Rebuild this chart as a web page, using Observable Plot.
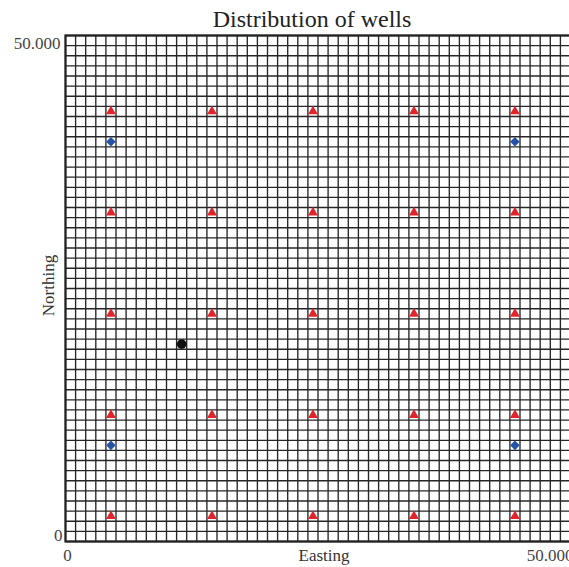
<!DOCTYPE html>
<html>
<head>
<meta charset="utf-8">
<script src="https://cdn.jsdelivr.net/npm/d3@7"></script>
<script src="https://cdn.jsdelivr.net/npm/@observablehq/plot@0.6"></script>
<style>
  html, body { margin: 0; padding: 0; background: #fff; overflow: hidden; }
  #wrap { position: relative; width: 569px; height: 567px; overflow: hidden; }
  #title { position: absolute; top: 4px; left: 55px; width: 514px; text-align: center;
           font-family: "Liberation Serif", serif; font-size: 24px; line-height: 30px; color: #222; }
  #chart { position: absolute; top: 0; left: 0; width: 600px; }
  #chart svg { max-width: none !important; width: 600px !important; height: 567px !important; }
</style>
</head>
<body>
<div id="wrap">
  <div id="chart"></div>
  <div id="title">Distribution of wells</div>
</div>
<script>
// Axis settings
const xDomain = [0, 50000];
const yDomain = [0, 50000];
const tickLabels = [0, 50000];
const gridStep = 1000;

// Red triangles (producer wells)
const triX = [4500, 14500, 24500, 34500, 44500,
              4500, 14500, 24500, 34500, 44500,
              4500, 14500, 24500, 34500, 44500,
              4500, 14500, 24500, 34500, 44500,
              4500, 14500, 24500, 34500, 44500];
const triY = [42500, 42500, 42500, 42500, 42500,
              32500, 32500, 32500, 32500, 32500,
              22500, 22500, 22500, 22500, 22500,
              12500, 12500, 12500, 12500, 12500,
              2500, 2500, 2500, 2500, 2500];

// Blue diamonds
const diaX = [4500, 44500, 4500, 44500];
const diaY = [39500, 39500, 9500, 9500];

// Black well
const blkX = [11500];
const blkY = [19500];

const tri = triX.map((x, i) => ({x, y: triY[i]}));
const dia = diaX.map((x, i) => ({x, y: diaY[i]}));
const blk = blkX.map((x, i) => ({x, y: blkY[i]}));
const grid = d3.range(xDomain[0], xDomain[1] + 1, gridStep);

const fmt = d => d === 0 ? "0" : d3.format(",")(d).replace(",", ".");

const chart = Plot.plot({
  width: 600,
  height: 567,
  marginTop: 35,
  marginBottom: 26,
  marginLeft: 65,
  marginRight: 30,
  style: {fontFamily: "Liberation Serif, serif", fontSize: "17px", color: "#333", background: "#fff", maxWidth: "none"},
  x: {domain: xDomain, axis: null},
  y: {domain: yDomain, axis: null},
  marks: [
    Plot.ruleX(grid, {stroke: "#262626", strokeWidth: 1.35}),
    Plot.ruleY(grid, {stroke: "#262626", strokeWidth: 1.35}),
    Plot.frame({stroke: "#222", strokeWidth: 2.2}),
    Plot.axisY([tickLabels[0]], {anchor: "left", label: null, tickSize: 0, tickPadding: 3, dy: -6, tickFormat: fmt, fill: "#444"}),
    Plot.axisY([tickLabels[1]], {anchor: "left", label: null, tickSize: 0, tickPadding: 5, dy: 8, tickFormat: fmt, fill: "#444"}),
    Plot.axisX([tickLabels[0]], {anchor: "bottom", label: null, tickSize: 0, tickPadding: 7, dx: 2, tickFormat: fmt, fill: "#444"}),
    Plot.axisX([tickLabels[1]], {anchor: "bottom", label: null, tickSize: 0, tickPadding: 7, dx: 3, textAnchor: "end", tickFormat: fmt, fill: "#444"}),
    Plot.text(["Easting"], {text: d => d, frameAnchor: "bottom", textAnchor: "middle", lineAnchor: "middle", dx: 6, dy: 14, fill: "#333", fontSize: 17}),
    Plot.text(["Northing"], {text: d => d, frameAnchor: "left", textAnchor: "middle", lineAnchor: "middle", rotate: -90, dx: -17, dy: -3, fill: "#333", fontSize: 17}),
    Plot.dot(tri, {x: "x", y: "y", symbol: "triangle", r: 3.7, fill: "#e0242a", stroke: null}),
    Plot.dot(dia, {x: "x", y: "y", symbol: "diamond2", r: 4.3, fill: "#2452a6", stroke: null}),
    Plot.dot(blk, {x: "x", y: "y", symbol: "circle", r: 4.8, fill: "#111", stroke: null})
  ]
});
document.getElementById("chart").appendChild(chart);
</script>
</body>
</html>
